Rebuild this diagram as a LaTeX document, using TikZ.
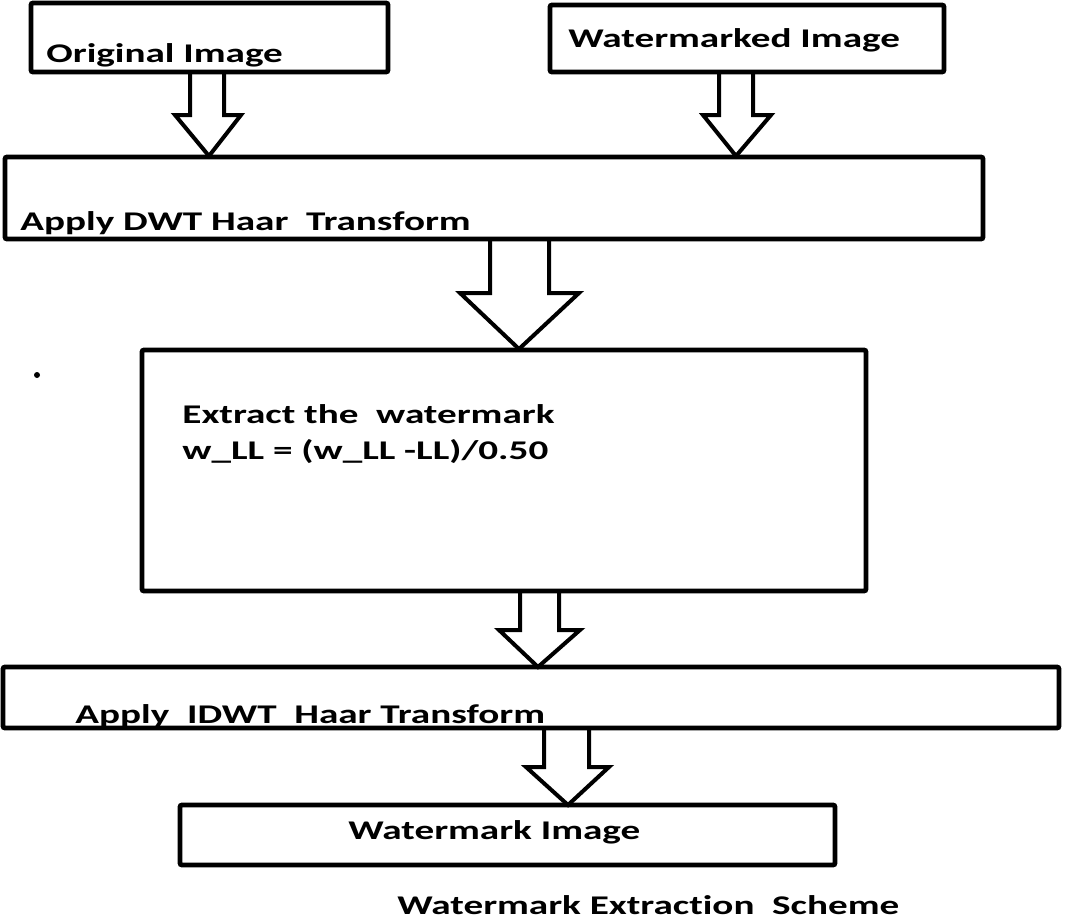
\documentclass[tikz,border=0pt]{standalone}
\usepackage{fontspec}
\setmainfont{Carlito}[FakeStretch=1.45,Ligatures=NoCommon]
\begin{document}
\begin{tikzpicture}[x=0.5pt,y=-0.5pt,
  boxl/.style={draw=black,line width=2.4pt,rounded corners=1pt},
  arr/.style={draw=black,line width=2pt,line join=miter},
  lbl/.style={anchor=base west,inner sep=0pt,font=\fontsize{13.5pt}{15pt}\selectfont\bfseries}]
\useasboundingbox (0,0) rectangle (1067,921);
% boxes
\draw[boxl] (31,3) rectangle (388,72) coordinate (b1);
\draw[boxl] (550,5) rectangle (944,72) coordinate (b2);
\draw[boxl] (5,157) rectangle (983,239) coordinate (b3);
\draw[boxl] (142,350) rectangle (866,591) coordinate (b4);
\draw[boxl] (3,667) rectangle (1059,728) coordinate (b5);
\draw[boxl] (180,805) rectangle (835,865) coordinate (b6);
% block arrows
\newcommand\blockarrow[8]{% sl sr hl hr yh tipx tipy y0
  \draw[arr] (#1,#8) -- (#1,#5) -- (#3,#5) -- (#6,#7) -- (#4,#5) -- (#2,#5) -- (#2,#8);}
\blockarrow{190}{224}{175}{241}{115}{209}{156}{72}
\blockarrow{719}{753}{703}{771}{115}{736}{156}{72}
\blockarrow{490}{549}{460}{579}{293}{519}{349}{239}
\blockarrow{520}{559}{499}{580}{630}{538}{667}{591}
\blockarrow{544}{589}{526}{609}{767}{568}{805}{728}
% texts
\node[lbl] (t1) at (46,62) {Original Image};
\node[lbl] (t2) at (568,47) {Watermarked Image};
\node[lbl] (t3) at (20,230) {Apply DWT Haar\ \ Transform};
\node[lbl] (t4a) at (182,423) {Extract the\ \ watermark};
\node[lbl] (t4b) at (182,459) {w\_LL = (w\_LL -LL)/0.50};
\node[lbl] (t5) at (75,723) {Apply\ \ IDWT\ \ Haar Transform};
\node[lbl] (t6) at (348,839) {Watermark Image};
\node[lbl] (t7) at (397,914) {Watermark Extraction\ \ Scheme};
\fill (37,375) circle (3);
\end{tikzpicture}
\end{document}
